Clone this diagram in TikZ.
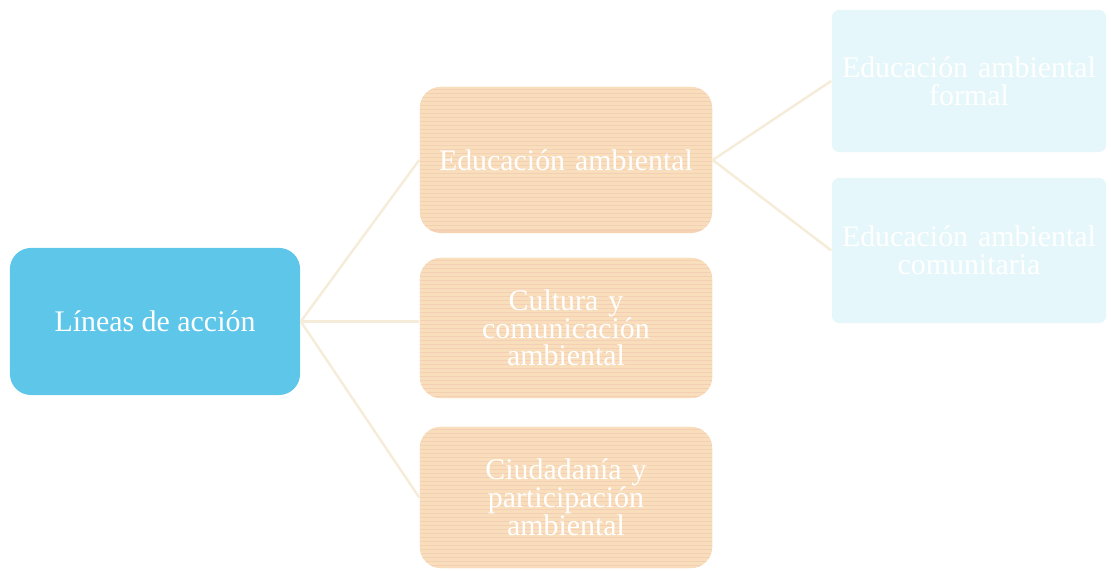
\documentclass[tikz,border=0pt]{standalone}
\usepackage{fontspec}
\setmainfont{Liberation Serif}
\usetikzlibrary{calc}
\definecolor{bluebox}{RGB}{94,198,232}
\definecolor{peach}{RGB}{246,211,176}
\definecolor{peachline}{RGB}{248,222,186}
\definecolor{pinkline}{RGB}{245,206,182}
\definecolor{lightcyan}{RGB}{229,247,250}
\definecolor{conn}{RGB}{245,236,218}
\newcommand{\boxfont}{\fontsize{8.5}{7.9}\selectfont\lineskiplimit=-20pt\relax}
\begin{document}
\begin{tikzpicture}[x=0.01cm,y=-0.01cm,
  box/.style={rounded corners=6pt, text=white, align=center, inner sep=2pt,
    font=\boxfont},
  rootbox/.style={box, fill=bluebox, minimum width=2.9cm, minimum height=1.47cm},
  midbox/.style={box, fill=peach, minimum width=2.92cm, text width=2.75cm,
    path picture={\foreach \i in {0,...,35}{
      \draw[peachline, line width=1.2pt] ($(path picture bounding box.north west)+(0,4*\i+1)$) -- ++(300,0);
      \draw[pinkline, line width=0.6pt] ($(path picture bounding box.north west)+(0,4*\i+3)$) -- ++(300,0);}}},
  leafbox/.style={box, fill=lightcyan, rounded corners=2pt, minimum width=2.72cm, text width=2.6cm},
  link/.style={draw=conn, line width=0.7pt}]
\useasboundingbox (0,0) rectangle (1111,571);
\node[rootbox] (root) at (155,321.5) {Líneas de acción};
\node[midbox, minimum height=1.46cm] (ea) at (566,160) {Educación ambiental};
\node[midbox, minimum height=1.40cm] (cc) at (566,328) {Cultura y\\ comunicación\\ ambiental};
\node[midbox, minimum height=1.41cm] (cp) at (566,497.5) {Ciudadanía y\\ participación\\ ambiental};
\node[leafbox, minimum height=1.42cm] (eaf) at (969,81) {Educación ambiental\\ formal};
\node[leafbox, minimum height=1.45cm] (eac) at (969,250.5) {Educación ambiental\\ comunitaria};
\draw[link] (root.east) -- (ea.west);
\draw[link] (root.east) -- (cc.west |- root.east);
\draw[link] (root.east) -- (cp.west);
\draw[link] (ea.east) -- (eaf.west);
\draw[link] (ea.east) -- (eac.west);
\end{tikzpicture}
\end{document}
